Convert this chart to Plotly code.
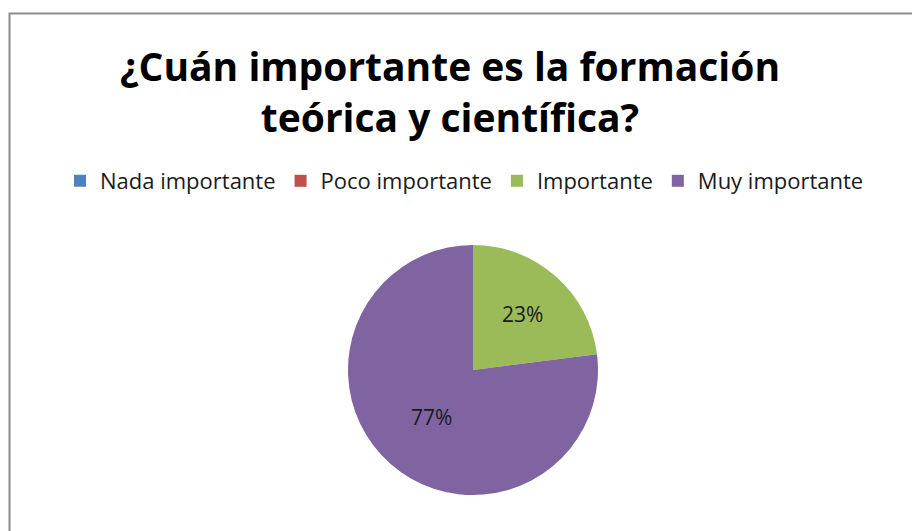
import plotly.graph_objects as go

categorias = ["Nada importante", "Poco importante", "Importante", "Muy importante"]
valores = [0, 0, 23, 77]
colores = ["#4F81BD", "#C0504D", "#9BBB59", "#8064A2"]

total = sum(valores)
etiquetas = [f"{round(v * 100 / total)}%" if v > 0 else "" for v in valores]

W, H = 920, 531
OFF = 8  # page body margin shifts everything by 8px

def px(x):
    return (x - OFF) / W

def py(y):
    return 1 - (y - OFF) / H

fig = go.Figure(go.Pie(
    labels=categorias,
    values=valores,
    text=etiquetas,
    textinfo="text",
    textposition="inside",
    insidetextfont=dict(family="Open Sans", size=21, color="#1a1a1a"),
    marker=dict(colors=colores, line=dict(width=0)),
    sort=False,
    direction="clockwise",
    rotation=0,
    hoverinfo="label+percent",
    domain=dict(x=[px(348), px(598)], y=[py(495), py(245)]),
))

fig.update_layout(
    width=W, height=H,
    margin=dict(l=0, r=0, t=0, b=0),
    paper_bgcolor="white",
    plot_bgcolor="white",
    title=dict(
        text="¿Cuán importante es la formación<br>teórica y científica?",
        x=px(450), xanchor="center",
        y=py(81), yanchor="top",
        font=dict(family="Open Sans", size=39, color="#000000", weight="bold"),
    ),
    legend=dict(
        orientation="h",
        x=px(60), xanchor="left",
        y=py(181), yanchor="middle",
        font=dict(family="Open Sans", size=22, color="#1a1a1a"),
        bgcolor="rgba(0,0,0,0)",
    ),
    shapes=[dict(
        type="rect", xref="paper", yref="paper",
        x0=px(9.5), x1=1.05, y0=-0.05, y1=py(13.5),
        line=dict(color="#8c8c8c", width=2),
    )],
)

fig.write_html("out.html")
